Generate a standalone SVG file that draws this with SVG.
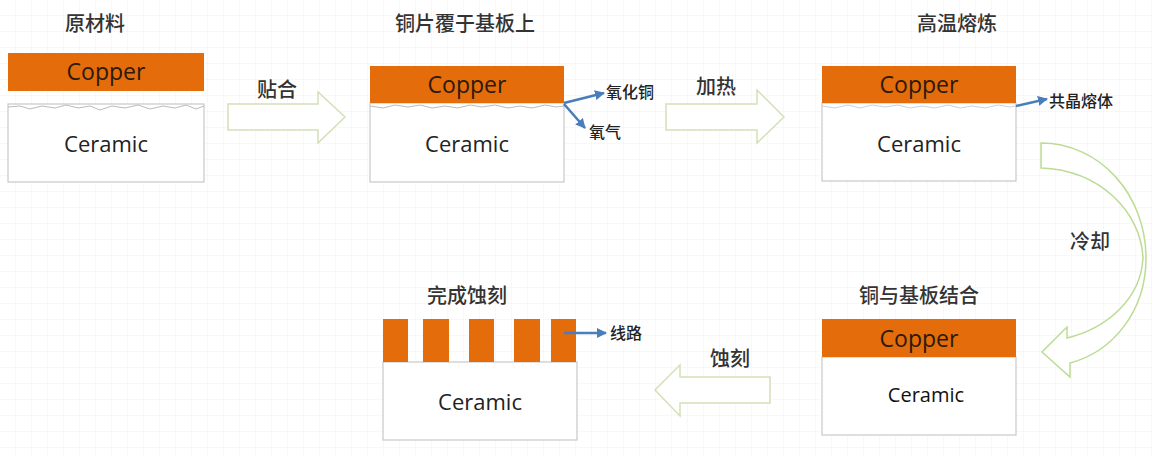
<svg xmlns="http://www.w3.org/2000/svg" width="1152" height="455" viewBox="0 0 1152 455">
<defs>
<pattern id="grid" width="16" height="16" patternUnits="userSpaceOnUse">
<path d="M16 0V16M0 16H16" fill="none" stroke="#f1f1f1" stroke-width="1"/>
</pattern>
<marker id="ah" viewBox="0 0 10 10" refX="9" refY="5" markerWidth="10" markerHeight="10" markerUnits="userSpaceOnUse" orient="auto">
<path d="M0,0 L10,5 L0,10 Z" fill="#4a7ebb"/>
</marker>
<style>
.cu{fill:#e46c0a}
.ce{fill:#fff;stroke:#c8c8c8;stroke-width:1.2}
.t{font-family:"Open Sans","Liberation Sans",sans-serif;font-size:22px;fill:#222;text-anchor:middle}
.tc{font-family:"Open Sans","Liberation Sans",sans-serif;font-size:23px;fill:#2b1a0e;text-anchor:middle}
.h{font-family:"Noto Sans CJK SC",sans-serif;font-size:20px;font-weight:500;fill:#333;text-anchor:middle}
.s{font-family:"Noto Sans CJK SC",sans-serif;font-size:16px;font-weight:500;fill:#222}
.wv{fill:none;stroke:#bbb;stroke-width:1}
.ba{fill:#fff;stroke:#d3e0b5;stroke-width:1.5}
.bl{stroke:#4a7ebb;stroke-width:2.5;fill:none;marker-end:url(#ah)}
</style>
</defs>
<rect width="1152" height="455" fill="#fff"/>
<rect width="1152" height="455" fill="url(#grid)"/>

<g id="step1">
<text class="h" x="95" y="31">原材料</text>
<rect class="cu" x="8" y="53" width="196" height="38"/>
<text class="tc" x="106" y="80">Copper</text>
<rect class="ce" x="8" y="104" width="196" height="78"/>
<polyline class="wv" points="8,107 20,106 30,109 42,106 55,108 66,105 78,108 90,106 100,110 112,106 125,108 138,105 150,109 163,106 175,108 186,105 196,109 204,106"/>
<text class="t" x="106" y="152">Ceramic</text>
</g>

<g id="step2">
<text class="h" x="465" y="31">铜片覆于基板上</text>
<rect class="ce" x="370" y="103" width="194" height="79"/>
<rect class="cu" x="370" y="66" width="194" height="37"/>
<text class="tc" x="467" y="93">Copper</text>
<polyline class="wv" points="370,106 383,108 395,105 408,107 420,105 432,108 445,106 458,108 470,105 482,107 495,105 508,108 520,106 532,108 545,105 556,107 564,106"/>
<text class="t" x="467" y="152">Ceramic</text>
<text class="s" x="606" y="98">氧化铜</text>
<text class="s" x="589" y="138">氧气</text>
</g>

<g id="step3">
<text class="h" x="957" y="31">高温熔炼</text>
<rect class="ce" x="822" y="103" width="194" height="78"/>
<rect class="cu" x="822" y="66" width="194" height="37"/>
<text class="tc" x="919" y="93">Copper</text>
<polyline class="wv" style="stroke:#c5d3e3" points="822,106 835,108 848,105 860,108 872,105 885,107 898,105 910,108 922,106 935,108 948,105 960,108 972,106 985,108 998,105 1010,107 1016,106"/>
<text class="t" x="919" y="152">Ceramic</text>
<text class="s" x="1049" y="107">共晶熔体</text>
</g>

<g id="step4">
<text class="h" x="919" y="303">铜与基板结合</text>
<rect class="ce" x="822" y="357" width="194" height="78"/>
<rect class="cu" x="822" y="319" width="194" height="38"/>
<text class="tc" x="919" y="347">Copper</text>
<text class="t" style="font-size:20px;fill:#111" x="926" y="402">Ceramic</text>
</g>

<g id="step5">
<text class="h" x="467" y="303">完成蚀刻</text>
<rect class="ce" x="383" y="362" width="194" height="78"/>
<rect class="cu" x="383" y="319" width="25" height="43"/>
<rect class="cu" x="423" y="319" width="26" height="43"/>
<rect class="cu" x="469" y="319" width="25" height="43"/>
<rect class="cu" x="514" y="319" width="26" height="43"/>
<rect class="cu" x="551" y="319" width="25" height="43"/>
<text class="t" x="480" y="410">Ceramic</text>
<text class="s" x="610" y="339">线路</text>
</g>

<g id="connectors">
<path class="ba" d="M228,104 H318 V92 L345,117 L318,143 V130 H228 Z"/>
<text class="h" x="277" y="97">贴合</text>
<path class="ba" d="M666,104 H757 V90 L784,117 L757,143 V130 H666 Z"/>
<text class="h" x="716" y="94">加热</text>
<path class="ba" d="M770,377 H680 V365 L655,390 L680,416 V403 H770 Z"/>
<text class="h" x="730" y="366">蚀刻</text>
<path class="ba" style="stroke:#bcdc94" d="M1041,143 C1100,143 1146,195 1146,258 C1146,312 1112,352 1070,363 L1070,377 L1042,352 L1067,327 L1067,338 C1108,328 1141,298 1143,258 C1141,212 1100,170 1041,168 Z"/>
<text class="h" x="1090" y="249">冷却</text>
<line class="bl" x1="564" y1="103" x2="604" y2="93"/>
<line class="bl" x1="564" y1="104" x2="585" y2="128"/>
<line class="bl" x1="1016" y1="106" x2="1047" y2="99"/>
<line class="bl" x1="564" y1="333" x2="606" y2="333"/>
</g>
</svg>
